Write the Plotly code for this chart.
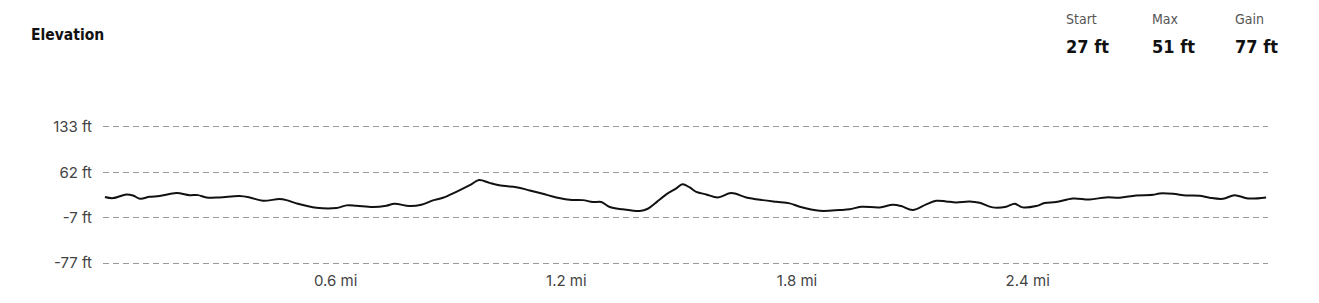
import plotly.graph_objects as go

# Distance along route (miles) and elevation (ft)
distance_mi = [0.000, 0.021, 0.056, 0.073, 0.092, 0.116, 0.142, 0.186, 0.220, 0.242,
               0.264, 0.298, 0.350, 0.376, 0.411, 0.454, 0.472, 0.498, 0.550, 0.602,
               0.628, 0.654, 0.697, 0.732, 0.753, 0.792, 0.823, 0.853, 0.879, 0.914,
               0.949, 0.973, 1.000, 1.035, 1.070, 1.105, 1.139, 1.174, 1.209, 1.243,
               1.269, 1.291, 1.313, 1.347, 1.391, 1.412, 1.434, 1.460, 1.486, 1.502,
               1.521, 1.538, 1.564, 1.594, 1.629, 1.668, 1.711, 1.746, 1.781, 1.807,
               1.859, 1.911, 1.937, 1.967, 2.015, 2.049, 2.071, 2.101, 2.136, 2.162,
               2.188, 2.214, 2.249, 2.275, 2.309, 2.344, 2.366, 2.387, 2.422, 2.444,
               2.474, 2.518, 2.561, 2.604, 2.639, 2.682, 2.726, 2.743, 2.778, 2.812,
               2.847, 2.873, 2.908, 2.938, 2.973, 3.020]
elevation_ft = [25.0, 23.2, 28.9, 27.3, 22.1, 25.2, 26.3, 30.9, 27.8, 27.8,
                24.3, 24.3, 26.3, 24.3, 19.1, 21.7, 20.1, 15.1, 8.3, 7.9,
                12.0, 11.4, 9.4, 11.4, 14.5, 10.9, 12.9, 19.7, 23.7, 32.9,
                43.1, 51.0, 46.7, 42.1, 40.1, 35.0, 29.8, 24.3, 20.6, 20.1,
                17.1, 17.1, 9.4, 5.9, 3.3, 6.8, 16.6, 28.9, 38.1, 44.5,
                39.6, 32.9, 28.9, 24.3, 30.9, 24.3, 20.1, 17.5, 15.1, 9.9,
                3.7, 4.8, 5.9, 9.9, 8.9, 12.9, 10.9, 4.8, 13.5, 19.1,
                18.1, 16.6, 18.1, 16.0, 8.9, 9.9, 14.5, 8.9, 10.9, 15.5,
                17.1, 22.7, 21.2, 24.3, 23.7, 27.3, 28.3, 30.4, 29.8, 27.3,
                26.7, 23.7, 22.1, 27.8, 22.7, 24.3]

y_tick_vals = [-77, -7, 63, 133]
y_tick_text = ["-77 ft", "-7 ft", "62 ft", "133 ft"]
x_tick_vals = [0.6, 1.2, 1.8, 2.4]
x_tick_text = ["0.6 mi", "1.2 mi", "1.8 mi", "2.4 mi"]

stat_labels = ["Start", "Max", "Gain"]
stat_values = ["27 ft", "51 ft", "77 ft"]
stat_x = [0.8246, 0.8991, 0.9703]

title_font = "DejaVu Sans Condensed, DejaVu Sans"
tick_font = dict(family="Inter, Noto Sans, sans-serif", size=15, color="#444444")
cond = '<span style="font-stretch:condensed">{}</span>'

fig = go.Figure()
fig.add_trace(go.Scatter(
    x=distance_mi, y=elevation_ft, mode="lines",
    line=dict(color="#111111", width=2, shape="spline", smoothing=1.0),
    hoverinfo="skip", showlegend=False,
))

annotations = []
for lab, val, xp in zip(stat_labels, stat_values, stat_x):
    annotations.append(dict(
        x=xp, y=1.76, xref="paper", yref="paper", xanchor="left", yanchor="middle",
        text=cond.format(lab), showarrow=False,
        font=dict(family=title_font, size=14, color="#555555"),
    ))
    annotations.append(dict(
        x=xp, y=1.559, xref="paper", yref="paper", xanchor="left", yanchor="middle",
        text=cond.format("<b>" + val + "</b>"), showarrow=False,
        font=dict(family=title_font, size=18, color="#111111"),
    ))

fig.update_layout(
    width=1319, height=303,
    margin=dict(l=103.4, r=50.6, t=125.4, b=37.7, pad=0),
    paper_bgcolor="white", plot_bgcolor="white",
    title=dict(text=cond.format("<b>Elevation</b>"), x=31 / 1319, xanchor="left",
               y=1 - 35 / 303, yanchor="middle",
               font=dict(family=title_font, size=15.5, color="#111111")),
    annotations=annotations,
    xaxis=dict(range=[-0.005, 3.025], tickvals=x_tick_vals, ticktext=x_tick_text,
               showgrid=False, zeroline=False, showline=False, ticks="",
               tickfont=tick_font, ticklabelstandoff=5, fixedrange=True),
    yaxis=dict(range=[-80, 136], tickvals=y_tick_vals, ticktext=y_tick_text,
               showgrid=True, gridcolor="#9a9a9a", gridwidth=1, griddash="6px,4px",
               zeroline=False, showline=False, ticks="",
               tickfont=tick_font, ticklabelstandoff=10, fixedrange=True),
)

fig.write_html("out.html", config={"displayModeBar": False})
